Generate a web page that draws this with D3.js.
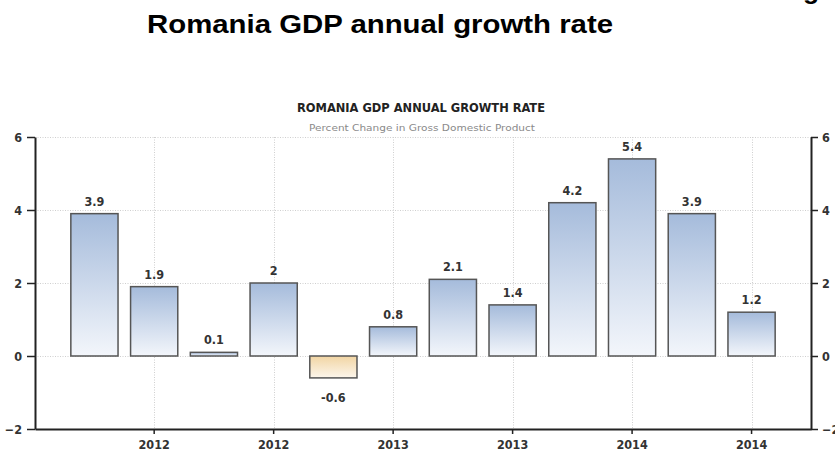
<!DOCTYPE html>
<html><head><meta charset="utf-8">
<script src="https://cdn.jsdelivr.net/npm/d3@7"></script>
<style>body{margin:0;background:#fff}svg{display:block}</style>
</head><body><svg id="c" width="835" height="454"></svg>
<script>
const categories = ["2011Q4","2012Q1","2012Q2","2012Q3","2012Q4","2013Q1","2013Q2","2013Q3","2013Q4","2014Q1","2014Q2","2014Q3"];
const values = [3.9,1.9,0.1,2,-0.6,0.8,2.1,1.4,4.2,5.4,3.9,1.2];
const xTickCategories = ["2012Q1","2012Q3","2013Q1","2013Q3","2014Q1","2014Q3"];
const xTickLabels = ["2012","2012","2013","2013","2014","2014"];
const yTicks = [-2,0,2,4,6];
const pageTitle = "Romania GDP annual growth rate";
const chartTitle = "ROMANIA GDP ANNUAL GROWTH RATE";
const chartSubtitle = "Percent Change in Gross Domestic Product";

const svg = d3.select("#c");
svg.append("rect").attr("width",835).attr("height",454).attr("fill","#fff");
const L = 35, R = 811, T = 137, B = 429;
const labelFont = "'DejaVu Sans Condensed', 'DejaVu Sans', sans-serif";

const x = d3.scaleBand().domain(categories).range([L, R]).paddingInner(0.21).paddingOuter(0.6);
const y = d3.scaleLinear().domain([-2, 6]).range([B, T]);

const defs = svg.append("defs");
const gp = defs.append("linearGradient").attr("id","gpos").attr("x1",0).attr("y1",0).attr("x2",0).attr("y2",1);
gp.append("stop").attr("offset","0%").attr("stop-color","#a5bbdb");
gp.append("stop").attr("offset","100%").attr("stop-color","#f3f6fb");
const gn = defs.append("linearGradient").attr("id","gneg").attr("x1",0).attr("y1",0).attr("x2",0).attr("y2",1);
gn.append("stop").attr("offset","0%").attr("stop-color","#f1d5a3");
gn.append("stop").attr("offset","100%").attr("stop-color","#fcf6ec");

// page title
svg.append("text").attr("x",147).attr("y",33).attr("font-family","Liberation Sans, Arial, sans-serif")
  .attr("font-weight","bold").attr("font-size",26.5).attr("fill","#000")
  .attr("textLength",466).attr("lengthAdjust","spacingAndGlyphs").text(pageTitle);
svg.append("text").attr("x",803).attr("y",-1).attr("font-family","Liberation Sans, Arial, sans-serif")
  .attr("font-weight","bold").attr("font-size",26.5).attr("fill","#000").text("g");

// chart titles
svg.append("text").attr("x",297).attr("y",112).attr("font-family",labelFont).attr("font-stretch","condensed")
  .attr("font-weight","bold").attr("font-size",12.5).attr("fill","#222")
  .attr("textLength",248).attr("lengthAdjust","spacingAndGlyphs").text(chartTitle);
svg.append("text").attr("x",309).attr("y",131).attr("font-family","DejaVu Sans, sans-serif")
  .attr("font-size",9.5).attr("fill","#8a8a8a")
  .attr("textLength",226).attr("lengthAdjust","spacingAndGlyphs").text(chartSubtitle);

// grid
const grid = svg.append("g").attr("stroke","#cfcfcf").attr("stroke-width",1).attr("stroke-dasharray","1,1.5");
grid.selectAll("line.h").data(yTicks.filter(d => d > -2)).join("line")
  .attr("x1",L).attr("x2",R).attr("y1",d => Math.round(y(d))+0.5).attr("y2",d => Math.round(y(d))+0.5);
grid.selectAll("line.v").data(xTickCategories).join("line")
  .attr("x1",d => Math.round(x(d)+x.bandwidth()/2)+0.5).attr("x2",d => Math.round(x(d)+x.bandwidth()/2)+0.5)
  .attr("y1",T).attr("y2",B);

// bars
svg.append("g").selectAll("rect").data(values).join("rect")
  .attr("x",(d,i) => x(categories[i]))
  .attr("width",x.bandwidth())
  .attr("y",d => y(Math.max(0,d)))
  .attr("height",d => Math.abs(y(d) - y(0)))
  .attr("fill",d => d < 0 ? "url(#gneg)" : "url(#gpos)")
  .attr("stroke","#555").attr("stroke-width",1.5);

// value labels
svg.append("g").selectAll("text").data(values).join("text")
  .attr("x",(d,i) => x(categories[i]) + x.bandwidth()/2)
  .attr("y",d => d < 0 ? y(d) + 24 : y(d) - 8)
  .attr("text-anchor","middle")
  .attr("font-family",labelFont).attr("font-stretch","condensed").attr("font-weight","bold").attr("font-size",12.5)
  .attr("fill","#333").text(d => String(d));

// axes
function styleAxis(g){
  g.select(".domain").attr("stroke","#222").attr("stroke-width",2);
  g.selectAll(".tick line").attr("stroke","#222").attr("stroke-width",1.5);
  g.selectAll(".tick text").attr("font-family",labelFont).attr("font-stretch","condensed").attr("font-weight","bold")
    .attr("font-size",12.5).attr("fill","#333");
}
svg.append("g").attr("transform",`translate(${L},0)`)
  .call(d3.axisLeft(y).tickValues(yTicks).tickSize(8).tickSizeOuter(0).tickPadding(5))
  .call(styleAxis);
svg.append("g").attr("transform",`translate(${R},0)`)
  .call(d3.axisRight(y).tickValues(yTicks).tickSize(7).tickSizeOuter(0).tickPadding(4))
  .call(styleAxis);
const xa = d3.axisBottom(x).tickValues(xTickCategories).tickSize(5).tickSizeOuter(0).tickPadding(6)
  .tickFormat(d => xTickLabels[xTickCategories.indexOf(d)]);
svg.append("g").attr("transform",`translate(0,${B})`).call(xa).call(styleAxis);
</script></body></html>
